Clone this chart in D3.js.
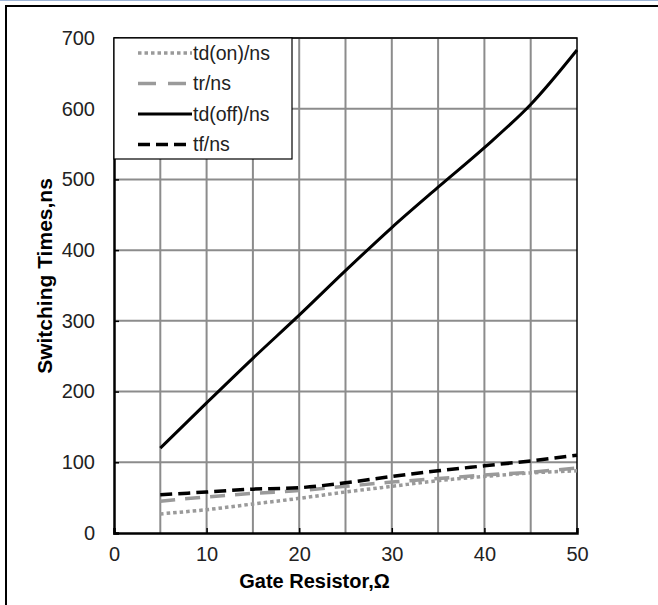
<!DOCTYPE html>
<html>
<head>
<meta charset="utf-8">
<script src="https://cdn.jsdelivr.net/npm/d3@7"></script>
<style>
  body { margin: 0; background: #fff; }
  svg { display: block; font-family: Arial, "Liberation Sans", sans-serif; }
</style>
</head>
<body>
<svg id="chart" width="658" height="605"></svg>
<script>
// gate resistor (ohm)
const resistor = [5, 10, 15, 20, 25, 30, 35, 40, 45, 50]
// switching times (ns)
const tdOn  = [27, 33, 41, 49, 58, 66, 74, 80, 85, 88]
const tr    = [45, 51, 56, 60, 66, 72, 77, 82, 86, 92]
const tdOff = [120, 184, 247, 308, 371, 432, 489, 545, 606, 683]
const tf    = [54, 58, 62, 64, 71, 80, 88, 95, 102, 110]

const seriesNames = ["td(on)/ns", "tr/ns", "td(off)/ns", "tf/ns"]
const xTicks = [0, 10, 20, 30, 40, 50]
const yTicks = [0, 100, 200, 300, 400, 500, 600, 700]

const svg = d3.select("#chart")
const W = 658, H = 605
const m = { left: 114, top: 38, right: 577, bottom: 533 }

// frame
svg.append("line").attr("x1", 0).attr("x2", W).attr("y1", 0.5).attr("y2", 0.5)
   .attr("stroke", "#9db4d6").attr("stroke-width", 1)
svg.append("line").attr("x1", 5).attr("x2", W).attr("y1", 6).attr("y2", 6)
   .attr("stroke", "#000").attr("stroke-width", 2)
svg.append("line").attr("x1", 6).attr("x2", 6).attr("y1", 5).attr("y2", H)
   .attr("stroke", "#000").attr("stroke-width", 2)

const x = d3.scaleLinear().domain([0, 50]).range([m.left, m.right])
const y = d3.scaleLinear().domain([0, 700]).range([m.bottom, m.top])

// grid
const g = svg.append("g")
g.selectAll("line.vgrid")
  .data(d3.range(5, 50, 5))
  .enter().append("line")
  .attr("x1", d => x(d)).attr("x2", d => x(d))
  .attr("y1", m.top).attr("y2", m.bottom)
  .attr("stroke", "#8c8c8c").attr("stroke-width", 2)
g.selectAll("line.hgrid")
  .data(d3.range(100, 701, 100))
  .enter().append("line")
  .attr("x1", m.left).attr("x2", m.right)
  .attr("y1", d => y(d)).attr("y2", d => y(d))
  .attr("stroke", "#8c8c8c").attr("stroke-width", 2)

// plot border top/right
svg.append("path")
  .attr("d", `M${m.left},${m.top}H${m.right}V${m.bottom}`)
  .attr("fill", "none").attr("stroke", "#000").attr("stroke-width", 1.5)

// axes
const xAxis = svg.append("g").attr("transform", `translate(0,${m.bottom})`)
  .call(d3.axisBottom(x).tickValues(xTicks).tickSize(-5).tickPadding(14))
const yAxis = svg.append("g").attr("transform", `translate(${m.left},0)`)
  .call(d3.axisLeft(y).tickValues(yTicks).tickSize(-5).tickPadding(19))
;[xAxis, yAxis].forEach(a => {
  a.select(".domain").attr("stroke", "#000").attr("stroke-width", 2.5)
  a.selectAll(".tick line").attr("stroke", "#000").attr("stroke-width", 1.5)
  a.selectAll(".tick text").attr("font-size", 20).attr("fill", "#222")
    .attr("font-family", "Arial, 'Liberation Sans', sans-serif")
})

// series
const styles = [
  { data: tdOn,  color: "#9a9a9a", dash: "3.5,3", width: 3.5 },
  { data: tr,    color: "#9a9a9a", dash: "15,10", width: 3.5 },
  { data: tdOff, color: "#000",    dash: null,    width: 3 },
  { data: tf,    color: "#000",    dash: "12,6",  width: 3.5 }
]
const line = d3.line().x(d => x(d[0])).y(d => y(d[1])).curve(d3.curveCatmullRom.alpha(0.5))
styles.forEach(s => {
  svg.append("path")
    .datum(resistor.map((r, i) => [r, s.data[i]]))
    .attr("d", line)
    .attr("fill", "none")
    .attr("stroke", s.color)
    .attr("stroke-width", s.width)
    .attr("stroke-dasharray", s.dash)
})

// legend
const leg = svg.append("g")
leg.append("rect").attr("x", m.left).attr("y", m.top).attr("width", 178).attr("height", 121)
  .attr("fill", "#fff").attr("stroke", "#000").attr("stroke-width", 1.2)
seriesNames.forEach((name, i) => {
  const yy = 53 + i * 30.5
  leg.append("line").attr("x1", 138).attr("x2", 192).attr("y1", yy).attr("y2", yy)
    .attr("stroke", styles[i].color).attr("stroke-width", styles[i].width)
    .attr("stroke-dasharray", styles[i].dash === "15,10" ? "18,12" : styles[i].dash)
  leg.append("text").attr("x", 193).attr("y", yy + 6.5)
    .attr("font-size", 19.5).attr("fill", "#222").text(name)
})

// axis titles
svg.append("text").attr("x", 314.5).attr("y", 588)
  .attr("text-anchor", "middle").attr("font-size", 20).attr("font-weight", "bold")
  .text("Gate Resistor,Ω")
svg.append("text").attr("transform", "translate(52,276) rotate(-90)")
  .attr("text-anchor", "middle").attr("font-size", 21).attr("font-weight", "bold")
  .text("Switching Times,ns")
</script>
</body>
</html>
